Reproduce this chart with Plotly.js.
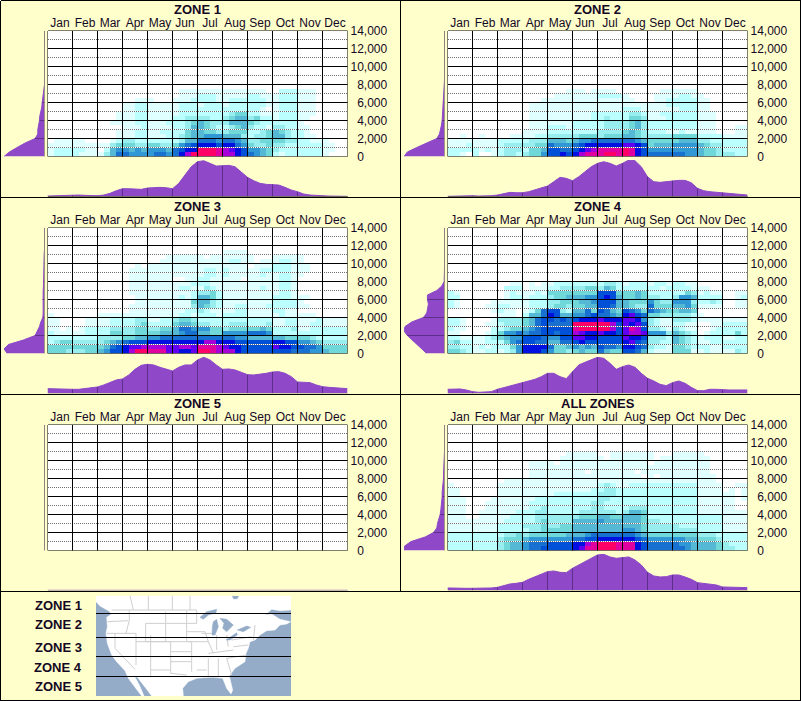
<!DOCTYPE html>
<html>
<head>
<meta charset="utf-8">
<script src="https://cdn.plot.ly/plotly-3.0.1.min.js"></script>
<style>html,body{margin:0;padding:0;background:#FFFFCC}
.shapelayer path{shape-rendering:crispEdges}</style>
</head>
<body>
<div id="chart" style="width:801px;height:701px"></div>
<script>
var months = ["Jan","Feb","Mar","Apr","May","Jun","Jul","Aug","Sep","Oct","Nov","Dec"];
var altitudeTicks = [0,2000,4000,6000,8000,10000,12000,14000];
var altitudeLabels = ["\u00a0\u00a00","\u00a0\u00a02,000","\u00a0\u00a04,000","\u00a0\u00a06,000","\u00a0\u00a08,000","10,000","12,000","14,000"];
var panelTitles = ["ZONE 1","ZONE 2","ZONE 3","ZONE 4","ZONE 5","ALL ZONES"];
var zoneKeyLabels = ["ZONE 1","ZONE 2","ZONE 3","ZONE 4","ZONE 5"];

// Intensity levels (0-13), one hex digit per quarter month, lowest altitude row first. Each row is 500 ft.
var zone1Rows = [
"1222 2111 1357 7666 6776 79bd dddc bb98 7654 2122 2222 1000",
"1222 2211 0256 6565 6665 7899 dddc ba98 6654 3222 2222 1100",
"1111 1111 1134 4433 4433 4678 9998 9976 4334 3322 2222 1100",
"0111 1100 0012 3322 2222 2355 7776 7765 3344 4433 2211 1000",
"0000 0000 0001 1122 1112 2345 5666 5553 2334 5532 2110 0000",
"0000 0000 0001 1122 1122 2245 5443 3444 2234 5432 2100 0000",
"0000 0000 0000 1112 1111 2235 5432 2345 3221 3322 1100 0000",
"0000 0000 0011 1122 1112 2234 5433 3555 4322 2222 1000 0000",
"0000 0000 0001 1122 1111 2233 3322 3455 3422 1222 1100 0000",
"0000 0000 0001 1122 1111 1222 2222 2344 2211 1222 1110 0000",
"0000 0000 0000 1122 1111 1222 2222 2222 2210 1222 1110 0000",
"0000 0000 0000 1122 1111 1222 1222 1222 2221 1222 1110 0000",
"0000 0000 0000 0011 1000 1112 2221 1222 2221 1222 1110 0000",
"0000 0000 0000 0000 0000 0111 2221 1111 2211 1222 1110 0000",
"0000 0000 0000 0000 0000 0111 1111 1111 1110 0222 1110 0000"];
var zone2Rows = [
"2210 2001 2332 3446 8898 9bcc cddc dc98 7777 7766 5443 3322",
"2222 2121 2333 2445 8877 89ab cccc dc98 6666 6666 5443 2222",
"1112 1111 2333 3344 7666 7899 9999 aa98 4555 6666 5433 2222",
"1111 1111 2222 2333 5554 5667 7777 7765 4444 4555 3322 2222",
"0010 0100 0011 1122 3333 3444 3444 5543 3333 4444 2222 1111",
"0000 0000 0000 1111 2222 2222 3333 4543 2221 1211 1110 0011",
"0000 0000 0000 0111 2221 2222 2333 3453 2222 2222 1110 0011",
"0000 0000 0000 0111 1111 2222 2333 3453 2222 2222 1110 0000",
"0000 0000 0000 0111 1111 1112 2322 2443 1112 2222 1110 0000",
"0000 0000 0000 0111 1111 1112 2222 2332 1122 2222 1110 0000",
"0000 0000 0000 0111 1111 1111 1111 2221 1111 1222 1100 0000",
"0000 0000 0000 0111 1111 1111 1111 1111 1112 2222 1100 0000",
"0000 0000 0000 0001 1111 1111 1111 1100 0112 2222 1100 0000",
"0000 0000 0000 0000 0111 1111 2222 1000 0111 1221 1000 0000",
"0000 0000 0000 0000 0001 1101 1110 0000 0011 1111 0000 0000"];
var zone3Rows = [
"4443 3344 5688 9bdd ccca a99a ddcb bb98 8888 8887 7766 5444",
"4444 4444 4578 9aab bbba abba cccb a998 8888 a998 8776 4444",
"2344 3333 3456 7888 9999 9999 9bb9 9988 8888 9988 6654 3333",
"2222 2222 3333 4455 6677 7777 7777 7766 5555 5544 4432 2222",
"2111 1122 2244 3344 4455 5677 5544 6666 7776 2222 2222 2222",
"1101 0122 2233 3344 3344 5776 6644 3444 4454 2223 1122 2222",
"1100 0011 1122 2234 2222 4554 3322 2333 2223 1122 1122 1111",
"1100 0011 1122 2233 1122 3443 2222 2222 2222 1122 1112 1111",
"1000 0000 1111 1111 1111 1221 2221 2222 1111 1211 1110 0000",
"0000 0000 0000 0111 1111 1122 3211 1122 1111 2211 0000 0000",
"0000 0000 0000 0111 1111 1113 5432 1122 1112 2222 1100 0000",
"0000 0000 0000 0011 1111 1114 5532 1111 1111 2222 1000 0000",
"0000 0000 0000 0011 1111 1212 5542 1111 1111 2221 1100 0000",
"0000 0000 0000 0111 1111 1112 3342 1111 1111 1221 0000 0000",
"0000 0000 0000 0111 1111 1221 1321 1111 1121 1221 0000 0000",
"0000 0000 0000 0111 1111 1112 2211 1111 1111 1221 0000 0000",
"0000 0000 0000 0111 1111 0011 2211 1110 1111 1221 0000 0000",
"0000 0000 0000 0111 1111 1111 1221 2111 1121 1221 1000 0000",
"0000 0000 0000 0111 1111 1111 1221 2111 1122 2221 1100 0000",
"0000 0000 0000 0010 1111 1111 1111 1111 0111 2221 1100 0000",
"0000 0000 0000 0000 0011 1111 1111 1221 1011 1221 1000 0000",
"0000 0000 0000 0000 0001 1111 1011 1111 1000 1111 1000 0000",
"0000 0000 0000 0000 0000 0000 0000 1111 0000 0000 0000 0000"];
var zone4Rows = [
"4432 1122 1236 9998 6443 4544 7544 8875 2111 4441 1211 1132",
"3322 1212 2246 9999 7445 6565 8776 9987 3221 4432 2211 2222",
"3422 1122 2467 8877 5577 8988 8888 9a87 3322 5432 1122 2222",
"2211 1123 4566 8887 6688 aa99 8888 a998 3332 5432 1222 1122",
"1100 0012 4667 6778 8788 ba99 a998 abba 6663 5432 0122 2242",
"2110 0002 2344 5678 8888 cddd ddb8 acb8 3321 3211 0012 2222",
"2210 0011 2333 4578 7777 dddd ddb8 a9a8 3211 2211 0011 2222",
"2210 0001 3333 4578 8787 8999 a999 aa96 3211 3332 1111 1111",
"0000 0000 1110 2557 9855 6678 7765 9a87 4433 3332 1000 0000",
"0000 0001 2110 1247 8832 5574 8754 8764 7654 4554 0000 0000",
"2100 0011 2211 1222 3443 4455 8875 5433 7444 5564 1111 0011",
"2100 0001 1111 1222 3344 4556 8885 5444 6433 6663 2232 0011",
"2200 0000 0122 1222 3445 5566 8985 4454 3322 3665 2222 0012",
"2100 0000 0121 1121 4444 4444 8884 4454 2222 2243 1211 0011",
"0000 0000 0222 0111 2233 3344 3542 2222 2212 2221 1100 0000",
"0000 0000 0011 0101 1222 2222 2332 1222 1221 2211 0000 0000"];
var zone5Rows = [];
var allZonesRows = [
"2222 2222 3455 6778 8888 9acc dddc cc98 7777 7765 5554 3322",
"2222 2222 3455 6777 8888 99bc dddc cc98 7777 7665 5554 3222",
"2222 2222 3444 5666 6666 7788 9999 9987 6666 6655 4443 2222",
"2222 2222 2334 3444 4445 5567 7777 7765 4444 4444 3332 2222",
"1111 1111 2222 2334 4444 5555 5555 6654 3333 3333 2222 1111",
"1111 1111 2222 3334 3344 5555 5555 5554 3333 3222 2222 1111",
"1111 1111 1222 2234 3333 5555 6555 5554 3322 2222 2222 1111",
"1110 0111 1122 2233 3333 3444 5544 5554 2222 2222 2222 1111",
"1110 0111 1112 2233 2222 2333 3332 3554 2222 2222 1111 1111",
"1110 0011 1111 1223 2222 2223 3222 2333 2222 2222 1111 1100",
"1110 0011 1111 1222 2222 2223 3222 2222 2222 2222 1111 1100",
"1110 0001 1111 1122 2222 2222 3322 2222 2222 2222 1111 1101",
"1100 0000 1111 1111 1222 2222 3332 2222 2222 2222 1111 1101",
"1100 0000 1111 1111 1111 1112 2332 2222 2222 2222 1111 0101",
"1000 0000 1111 1111 1111 1111 2321 1222 2222 2222 1111 0011",
"0000 0000 0111 1111 1111 1111 1111 1111 1111 1111 1110 0000",
"0000 0000 0000 0111 1111 1111 1111 1110 1011 1111 1110 0000",
"0000 0000 0000 0111 1111 1101 1111 1101 1111 1111 1100 0000",
"0000 0000 0000 0111 1111 1111 1111 1111 1111 1111 1100 0000",
"0000 0000 0000 0111 1011 1111 1111 1111 0111 1111 1100 0000",
"0000 0000 0000 0000 0011 1111 1011 1111 1011 1111 1100 0000",
"0000 0000 0000 0000 0001 1111 0011 1111 1000 1111 1000 0000"];

// Monthly marginal profile, sampled each quarter month.
var zone1Month = [2,3,3,4,5,5,4,3,3,5,10,18,24,24,22,22,26,28,28,27,24,40,65,90,105,108,100,92,93,94,90,75,58,48,40,37,37,35,28,20,15,8,5,3,3,2,1,1,1];
var zone2Month = [1,2,2,2,3,2,2,3,5,10,13,12,12,15,20,25,32,45,58,55,48,60,75,90,100,105,100,92,100,110,108,90,60,45,43,45,48,49,49,42,25,18,15,13,12,10,8,7,5];
var zone3Month = [14,13,13,12,12,12,14,16,19,25,32,40,43,55,72,84,87,85,78,72,67,78,85,85,100,108,100,85,72,73,70,63,56,55,57,60,64,65,60,50,34,32,32,25,20,18,16,15,14];
var zone4Month = [12,13,13,10,5,3,3,5,12,17,22,27,32,37,42,50,60,60,50,44,65,85,93,100,108,105,90,72,80,85,78,60,45,37,27,23,32,37,30,18,8,8,12,12,10,10,10,10,10];
var zone5Month = [0,0,0,0,0,0,0,0,0,0,0,0,0,0,0,0,0,0,0,0,0,0,0,0,0,0,0,0,0,0,0,0,0,0,0,0,0,0,0,0,0,0,0,0,0,0,0,0,0];
var allZonesMonth = [7,6,6,6,6,6,6,7,9,14,19,21,24,33,41,49,56,58,54,53,66,76,86,94,106,108,100,96,99,100,91,76,54,43,40,41,46,46,40,33,23,21,19,16,10,9,8,8,8];

// Altitude marginal profile, sampled each 500 ft from 0 upward.
var zone1Alt = [121,105,82,58,28,20,20,17,15,14,10,8,7,5,3,1];
var zone2Alt = [121,111,83,53,23,15,11,9,7,6,5,4,3,3,2,1];
var zone3Alt = [111,121,108,63,28,21,15,11,5,4,4,5,6,6,4,3,3,2,2,2,2,1,1];
var zone4Alt = [53,68,83,98,111,121,118,98,63,53,51,48,51,51,23,8,1];
var zone5Alt = [];
var allZonesAlt = [121,119,100,58,33,23,21,16,13,11,9,8,7,7,5,4,3,3,2,2,1,1];

// Key map outlines (drawn on its own small axis).
var mapLand = [[288,17],[695,17],[700,28],[712,28],[718,17],[873,17],[873,60],[840,62],[815,58],[795,75],[815,72],[840,88],[872,95],[860,102],[840,105],[825,120],[800,122],[780,135],[765,150],[750,155],[745,175],[738,190],[735,215],[705,235],[688,258],[698,300],[693,312],[680,295],[668,265],[640,262],[610,263],[590,265],[565,275],[548,295],[550,318],[455,318],[440,298],[412,262],[402,256],[418,285],[432,318],[425,318],[405,292],[385,265],[375,242],[350,215],[335,195],[322,160],[318,130],[322,110],[320,82],[335,72],[325,62],[300,48],[288,35],[288,17]];
var mapLakes = [
[[600,82],[620,65],[650,58],[648,68],[625,75],[610,88],[600,82]],
[[640,95],[650,88],[655,110],[645,135],[636,135],[637,110],[640,95]],
[[660,85],[680,88],[700,105],[680,125],[668,115],[672,100],[660,85]],
[[678,150],[700,135],[710,128],[712,135],[690,150],[678,150]],
[[712,120],[740,108],[752,112],[730,125],[712,120]]];
var mapBorders = [
[[335,60],[590,60]],[[390,17],[400,60]],[[445,17],[445,60]],[[517,17],[517,60]],[[570,17],[570,60]],
[[322,95],[385,92]],[[320,130],[380,130]],[[388,60],[388,90],[378,130],[408,130],[408,225]],
[[345,130],[345,175],[405,238]],[[437,100],[497,100],[497,155],[437,155],[437,100]],
[[452,135],[452,262]],[[408,155],[452,155],[512,155],[512,200],[452,200]],[[452,240],[510,240]],
[[512,200],[512,250],[560,255]],[[512,215],[575,215],[575,245]],[[497,65],[497,100],[560,100]],
[[560,62],[560,155]],[[497,155],[575,155],[575,215]],[[512,185],[575,185]],[[560,125],[615,125]],
[[565,155],[625,155]],[[575,200],[635,200]],[[590,240],[620,240]],[[625,205],[625,262]],[[655,205],[655,262]],
[[680,205],[695,255]],[[605,130],[640,130]],[[615,125],[625,155],[640,190]],[[650,135],[650,180]],
[[680,135],[685,170]],[[625,190],[700,180]],[[700,170],[745,165]],[[680,205],[740,195]],[[695,150],[755,140]],
[[765,105],[760,150]],[[590,60],[590,100],[560,100]]];
var mapLatitudes = [71,143,200,260];

var heatRows = [zone1Rows,zone2Rows,zone3Rows,zone4Rows,zone5Rows,allZonesRows];
var monthProfiles = [zone1Month,zone2Month,zone3Month,zone4Month,zone5Month,allZonesMonth];
var altProfiles = [zone1Alt,zone2Alt,zone3Alt,zone4Alt,zone5Alt,allZonesAlt];

var W = 801, H = 701;
var BG = "#FFFFCC", PURPLE = "#8E48C8", STEM = "#5C3088", TEXT = "#140824";
var levelColors = ["#FFFFFF","#E0FFFF","#BBFFFF","#98EEEE","#70D8D8","#55B8D4","#3098D4","#1870D0","#0050D8","#0010E0","#6000F0","#A800D8","#E000A0","#FF0068"];
var colorscale = levelColors.map(function(c,i){return [i/13,c];});
var colX = [47.5,447.5], plotW = 300;
var rowTop = [30.5,227.5,424.5], rowBot = [156.5,353.5,550.5], rowBase = [196.7,393.3,590.3];
var titleY = [9,206,403], monthFont = {family:"Arial, Liberation Sans",size:12,color:TEXT};

function fx(p){return p/W;}
function fy(p){return 1-p/H;}

var traces=[], layout={width:W,height:H,margin:{l:0,r:0,t:0,b:0,pad:0},paper_bgcolor:BG,plot_bgcolor:BG,showlegend:false,shapes:[],annotations:[],hovermode:false,font:{family:"Arial, Liberation Sans",size:12,color:TEXT}};

function axName(n){return n===1?"":String(n);}
function line(x0,y0,x1,y1,xr,yr,color,width,dash,below){
  var s={type:"line",x0:x0,y0:y0,x1:x1,y1:y1,xref:xr,yref:yr,line:{color:color,width:width},layer:below?"below":"above"};
  if(dash) s.line.dash=dash;
  layout.shapes.push(s);
}
function hidden(domain,range,extra){
  var a={domain:domain,range:range,visible:false,fixedrange:true,showgrid:false,zeroline:false};
  for(var k in extra) a[k]=extra[k];
  return a;
}

panelTitles.forEach(function(title,i){
  var col=i%2, row=Math.floor(i/2);
  var x0=colX[col], x1=x0+plotW, top=rowTop[row], bot=rowBot[row], base=rowBase[row];
  var nH=3*i+1, nL=3*i+2, nB=3*i+3;
  var hx="x"+axName(nH), hy="y"+axName(nH), lx="x"+nL, ly="y"+nL, bx="x"+nB, by="y"+nB;

  // heat cells
  var rows=heatRows[i].map(function(r){return r.replace(/ /g,"").split("").map(function(c){return parseInt(c,16);});});
  while(rows.length<28) rows.push(new Array(48).fill(0));
  var xs=[],ys=[],k;
  for(k=0;k<48;k++) xs.push((k+0.5)/4);
  for(k=0;k<28;k++) ys.push((k+0.5)*500);
  traces.push({type:"heatmap",x:xs,y:ys,z:rows,xaxis:hx,yaxis:hy,zmin:0,zmax:13,colorscale:colorscale,showscale:false,zsmooth:false,hoverinfo:"skip"});

  layout["xaxis"+axName(nH)]={domain:[fx(x0),fx(x1)],range:[0,12],anchor:hy,side:"top",tickmode:"array",tickvals:months.map(function(m,j){return j+0.5;}),ticktext:months,ticks:"",showgrid:false,zeroline:false,showline:false,fixedrange:true,tickfont:monthFont};
  layout["yaxis"+axName(nH)]={domain:[fy(bot),fy(top)],range:[0,14000],anchor:hx,side:"right",tickmode:"array",tickvals:altitudeTicks,ticktext:altitudeLabels,ticks:"",ticklabelstandoff:2,showgrid:false,zeroline:false,showline:false,fixedrange:true,tickfont:monthFont};

  // grid over the cells
  for(k=1000;k<14000;k+=2000){
    line(0.02,k,12,k,hx,hy,"#FFFFFF",1);
    line(0.02,k,12,k,hx,hy,"#707070",1,"1px,1px");
  }
  for(k=0;k<=14000;k+=2000) line(0,k,12,k,hx,hy,"#000000",1);
  for(k=0;k<=12;k++) line(k,0,k,14000,hx,hy,"#000000",1);

  // month profile
  var mp=monthProfiles[i], mx=mp.map(function(v,j){return j/4;});
  traces.push({type:"scatter",mode:"lines",x:mx,y:mp,xaxis:bx,yaxis:by,fill:"tozeroy",fillcolor:PURPLE,line:{color:PURPLE,width:1},hoverinfo:"skip"});
  var sx=[],sy=[];
  for(k=1;k<12;k++){sx.push(k,k,null);sy.push(0,mp[k*4],null);}
  traces.push({type:"scatter",mode:"lines",x:sx,y:sy,xaxis:bx,yaxis:by,line:{color:STEM,width:1},hoverinfo:"skip"});
  layout["xaxis"+nB]=hidden([fx(x0),fx(x1)],[0,12],{anchor:by});
  layout["yaxis"+nB]=hidden([fy(base),fy(base-110/3)],[0,110],{anchor:bx});
  line(x0/W,0,x1/W,0,"paper",by,"#606040",1);

  // altitude profile
  var ap=altProfiles[i].slice();
  while(ap.length<29) ap.push(0);
  var ay=ap.map(function(v,j){return j*500;});
  var lLeft=col*400+4, lRight=col*400+44.5;
  traces.push({type:"scatter",mode:"lines",x:ap,y:ay,xaxis:lx,yaxis:ly,fill:"tozerox",fillcolor:PURPLE,line:{color:PURPLE,width:1},hoverinfo:"skip"});
  var tx=[],ty=[];
  for(k=2000;k<14000;k+=2000){tx.push(0,ap[k/500],null);ty.push(k,k,null);}
  traces.push({type:"scatter",mode:"lines",x:tx,y:ty,xaxis:lx,yaxis:ly,line:{color:STEM,width:1},hoverinfo:"skip"});
  layout["xaxis"+nL]=hidden([fx(lLeft),fx(lRight)],[121,0],{anchor:ly});
  layout["yaxis"+nL]=hidden([fy(bot),fy(top)],[0,14000],{anchor:lx});
  line(0,0,0,14000,lx,ly,"#606040",1);

  layout.annotations.push({text:"<b>"+title+"</b>",xref:"paper",yref:"paper",x:fx((x0+x1)/2),y:fy(titleY[row]),xanchor:"center",yanchor:"middle",showarrow:false,font:{family:"Arial, Liberation Sans",size:13,color:TEXT}});
});

// key map
var mapAxis=19;
var mxa="x"+mapAxis, mya="y"+mapAxis;
layout["xaxis"+mapAxis]=hidden([fx(96),fx(291)],[288,873],{anchor:mya});
layout["yaxis"+mapAxis]=hidden([fy(696),fy(595.7)],[318,17],{anchor:mxa});
layout.shapes.push({type:"rect",x0:288,x1:873,y0:17,y1:318,xref:mxa,yref:mya,fillcolor:"#94ACC8",line:{width:0},layer:"below"});
function poly(points,color){
  traces.push({type:"scatter",mode:"lines",x:points.map(function(p){return p[0];}),y:points.map(function(p){return p[1];}),xaxis:mxa,yaxis:mya,fill:"toself",fillcolor:color,line:{color:color,width:0.5},hoverinfo:"skip"});
}
poly(mapLand,"#FFFFFF");
var bx_=[],by_=[];
mapBorders.forEach(function(seg){seg.forEach(function(p){bx_.push(p[0]);by_.push(p[1]);});bx_.push(null);by_.push(null);});
traces.push({type:"scatter",mode:"lines",x:bx_,y:by_,xaxis:mxa,yaxis:mya,line:{color:"#CFCFCF",width:1},hoverinfo:"skip"});
mapLakes.forEach(function(l){poly(l,"#94ACC8");});
mapLatitudes.forEach(function(v){line(288,v,873,v,mxa,mya,"#000000",1);});

var keyY=[605,624,647,667,686];
zoneKeyLabels.forEach(function(t,i){
  layout.annotations.push({text:"<b>"+t+"</b>",xref:"paper",yref:"paper",x:fx(83.5),y:fy(keyY[i]),xanchor:"right",yanchor:"middle",showarrow:false,font:{family:"Arial, Liberation Sans",size:13,color:TEXT}});
});

// panel frame
function frame(x0,y0,x1,y1){line(fx(x0),fy(y0),fx(x1),fy(y1),"paper","paper","#000000",1);}
frame(0.5,0.5,800.5,0.5);
frame(0.5,0.5,0.5,700.5);
frame(800.5,0.5,800.5,700.5);
frame(0.5,700.5,800.5,700.5);
frame(400.5,0.5,400.5,591.5);
frame(0.5,197.5,800.5,197.5);
frame(0.5,394.5,800.5,394.5);
frame(0.5,591.5,800.5,591.5);

Plotly.newPlot("chart",traces,layout,{staticPlot:true,displayModeBar:false});
</script>
</body>
</html>
